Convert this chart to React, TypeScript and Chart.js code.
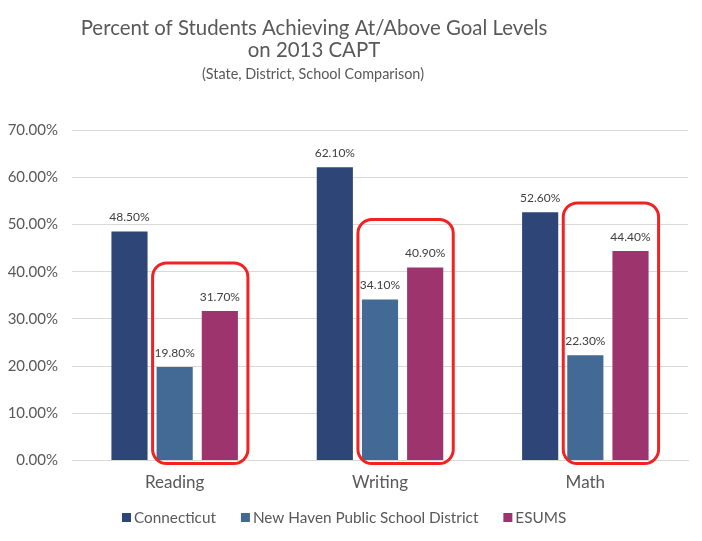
import React, { useEffect, useRef } from "react";
import { Chart, registerables } from "chart.js";

Chart.register(...registerables);

const categories = ["Reading", "Writing", "Math"];
const seriesNames = ["Connecticut", "New Haven Public School District", "ESUMS"];
const connecticut = [48.5, 62.1, 52.6];
const newHaven = [19.8, 34.1, 22.3];
const esums = [31.7, 40.9, 44.4];
const seriesColors = ["#2E4677", "#426A95", "#9E346D"];
const titleLines = ["Percent of Students Achieving At/Above Goal Levels", "on 2013 CAPT"];
const subtitleText = "(State, District, School Comparison)";
const yMin = 0;
const yMax = 70;
const yStep = 10;
const highlightedSeries = [1, 2];

const FONT = "Lato, 'Open Sans', sans-serif";
const TEXT = "#595959";

const titlePlugin = {
  id: "customTitle",
  afterDraw(chart: any) {
    const ctx = chart.ctx;
    ctx.save();
    ctx.fillStyle = TEXT;
    ctx.textAlign = "center";
    ctx.textBaseline = "alphabetic";
    ctx.font = `20.4px ${FONT}`;
    ctx.fillText(titleLines[0], 314, 35);
    ctx.fillText(titleLines[1], 314, 57);
    ctx.font = `14.4px ${FONT}`;
    ctx.fillText(subtitleText, 313, 79);
    ctx.restore();
  },
};

const legendPlugin = {
  id: "customLegend",
  afterDraw(chart: any) {
    const ctx = chart.ctx;
    ctx.save();
    ctx.font = `15.3px ${FONT}`;
    ctx.textBaseline = "middle";
    ctx.textAlign = "left";
    const box = 9;
    const gapBox = 3;
    const gapItem = 25;
    const widths = seriesNames.map((n) => box + gapBox + ctx.measureText(n).width);
    let x = 122;
    const y = 518;
    seriesNames.forEach((n, i) => {
      ctx.fillStyle = seriesColors[i];
      ctx.fillRect(x, y - 5, box, box);
      ctx.fillStyle = TEXT;
      ctx.fillText(n, x + box + gapBox, y);
      x += widths[i] + gapItem;
    });
    ctx.restore();
  },
};

const labelPlugin = {
  id: "valueLabels",
  afterDatasetsDraw(chart: any) {
    const ctx = chart.ctx;
    ctx.save();
    ctx.font = `12px ${FONT}`;
    ctx.fillStyle = "#404040";
    ctx.textAlign = "center";
    ctx.textBaseline = "middle";
    chart.data.datasets.forEach((ds: any, di: number) => {
      const meta = chart.getDatasetMeta(di);
      meta.data.forEach((bar: any, i: number) => {
        ctx.fillText(ds.data[i].toFixed(2) + "%", bar.x, bar.y - 14);
      });
    });
    ctx.restore();
  },
};

const highlightPlugin = {
  id: "highlightBoxes",
  afterDatasetsDraw(chart: any) {
    const ctx = chart.ctx;
    const yScale = chart.scales.y;
    const first = chart.getDatasetMeta(highlightedSeries[0]);
    const last = chart.getDatasetMeta(highlightedSeries[highlightedSeries.length - 1]);
    ctx.save();
    ctx.strokeStyle = "#F22222";
    ctx.lineWidth = 3;
    categories.forEach((_, i) => {
      const b1 = first.data[i];
      const b2 = last.data[i];
      const left = b1.x - b1.width / 2 - 4;
      const right = b2.x + b2.width / 2 + 10;
      let topY = Infinity;
      highlightedSeries.forEach((s) => {
        topY = Math.min(topY, chart.getDatasetMeta(s).data[i].y);
      });
      const top = topY - 48;
      const bottom = yScale.getPixelForValue(0) + 3;
      ctx.beginPath();
      ctx.roundRect(left, top, right - left, bottom - top, 14);
      ctx.stroke();
    });
    ctx.restore();
  },
};

export default function App() {
  const ref = useRef<HTMLCanvasElement>(null);
  useEffect(() => {
    if (!ref.current) return;
    const chart = new Chart(ref.current, {
      type: "bar",
      data: {
        labels: categories,
        datasets: [connecticut, newHaven, esums].map((d, i) => ({
          label: seriesNames[i],
          data: d,
          backgroundColor: seriesColors[i],
          categoryPercentage: 0.66,
          barPercentage: 0.8,
        })),
      },
      options: {
        animation: false,
        responsive: false,
        devicePixelRatio: 1,
        layout: { padding: { top: 130, right: 14, left: 0, bottom: 36 } },
        plugins: {
          legend: { display: false },
          title: { display: false },
          tooltip: { enabled: false },
        },
        scales: {
          x: {
            grid: { display: false, drawTicks: false },
            border: { display: true, color: "#D9D9D9" },
            ticks: { font: { family: FONT, size: 17 }, color: TEXT, padding: 12 },
          },
          y: {
            min: yMin,
            max: yMax,
            grid: { color: "#D9D9D9", drawTicks: false },
            border: { display: false },
            ticks: {
              stepSize: yStep,
              font: { family: FONT, size: 15 },
              color: TEXT,
              padding: 14,
              callback: (v: any) => Number(v).toFixed(2) + "%",
            },
            afterFit: (s: any) => {
              s.width = 72;
            },
          },
        },
      },
      plugins: [highlightPlugin, labelPlugin, titlePlugin, legendPlugin],
    });
    return () => chart.destroy();
  }, []);
  return (
    <div style={{ position: "absolute", left: 0, top: 0, width: 702, height: 541, background: "#fff" }}>
      <canvas ref={ref} width={702} height={541} />
    </div>
  );
}
